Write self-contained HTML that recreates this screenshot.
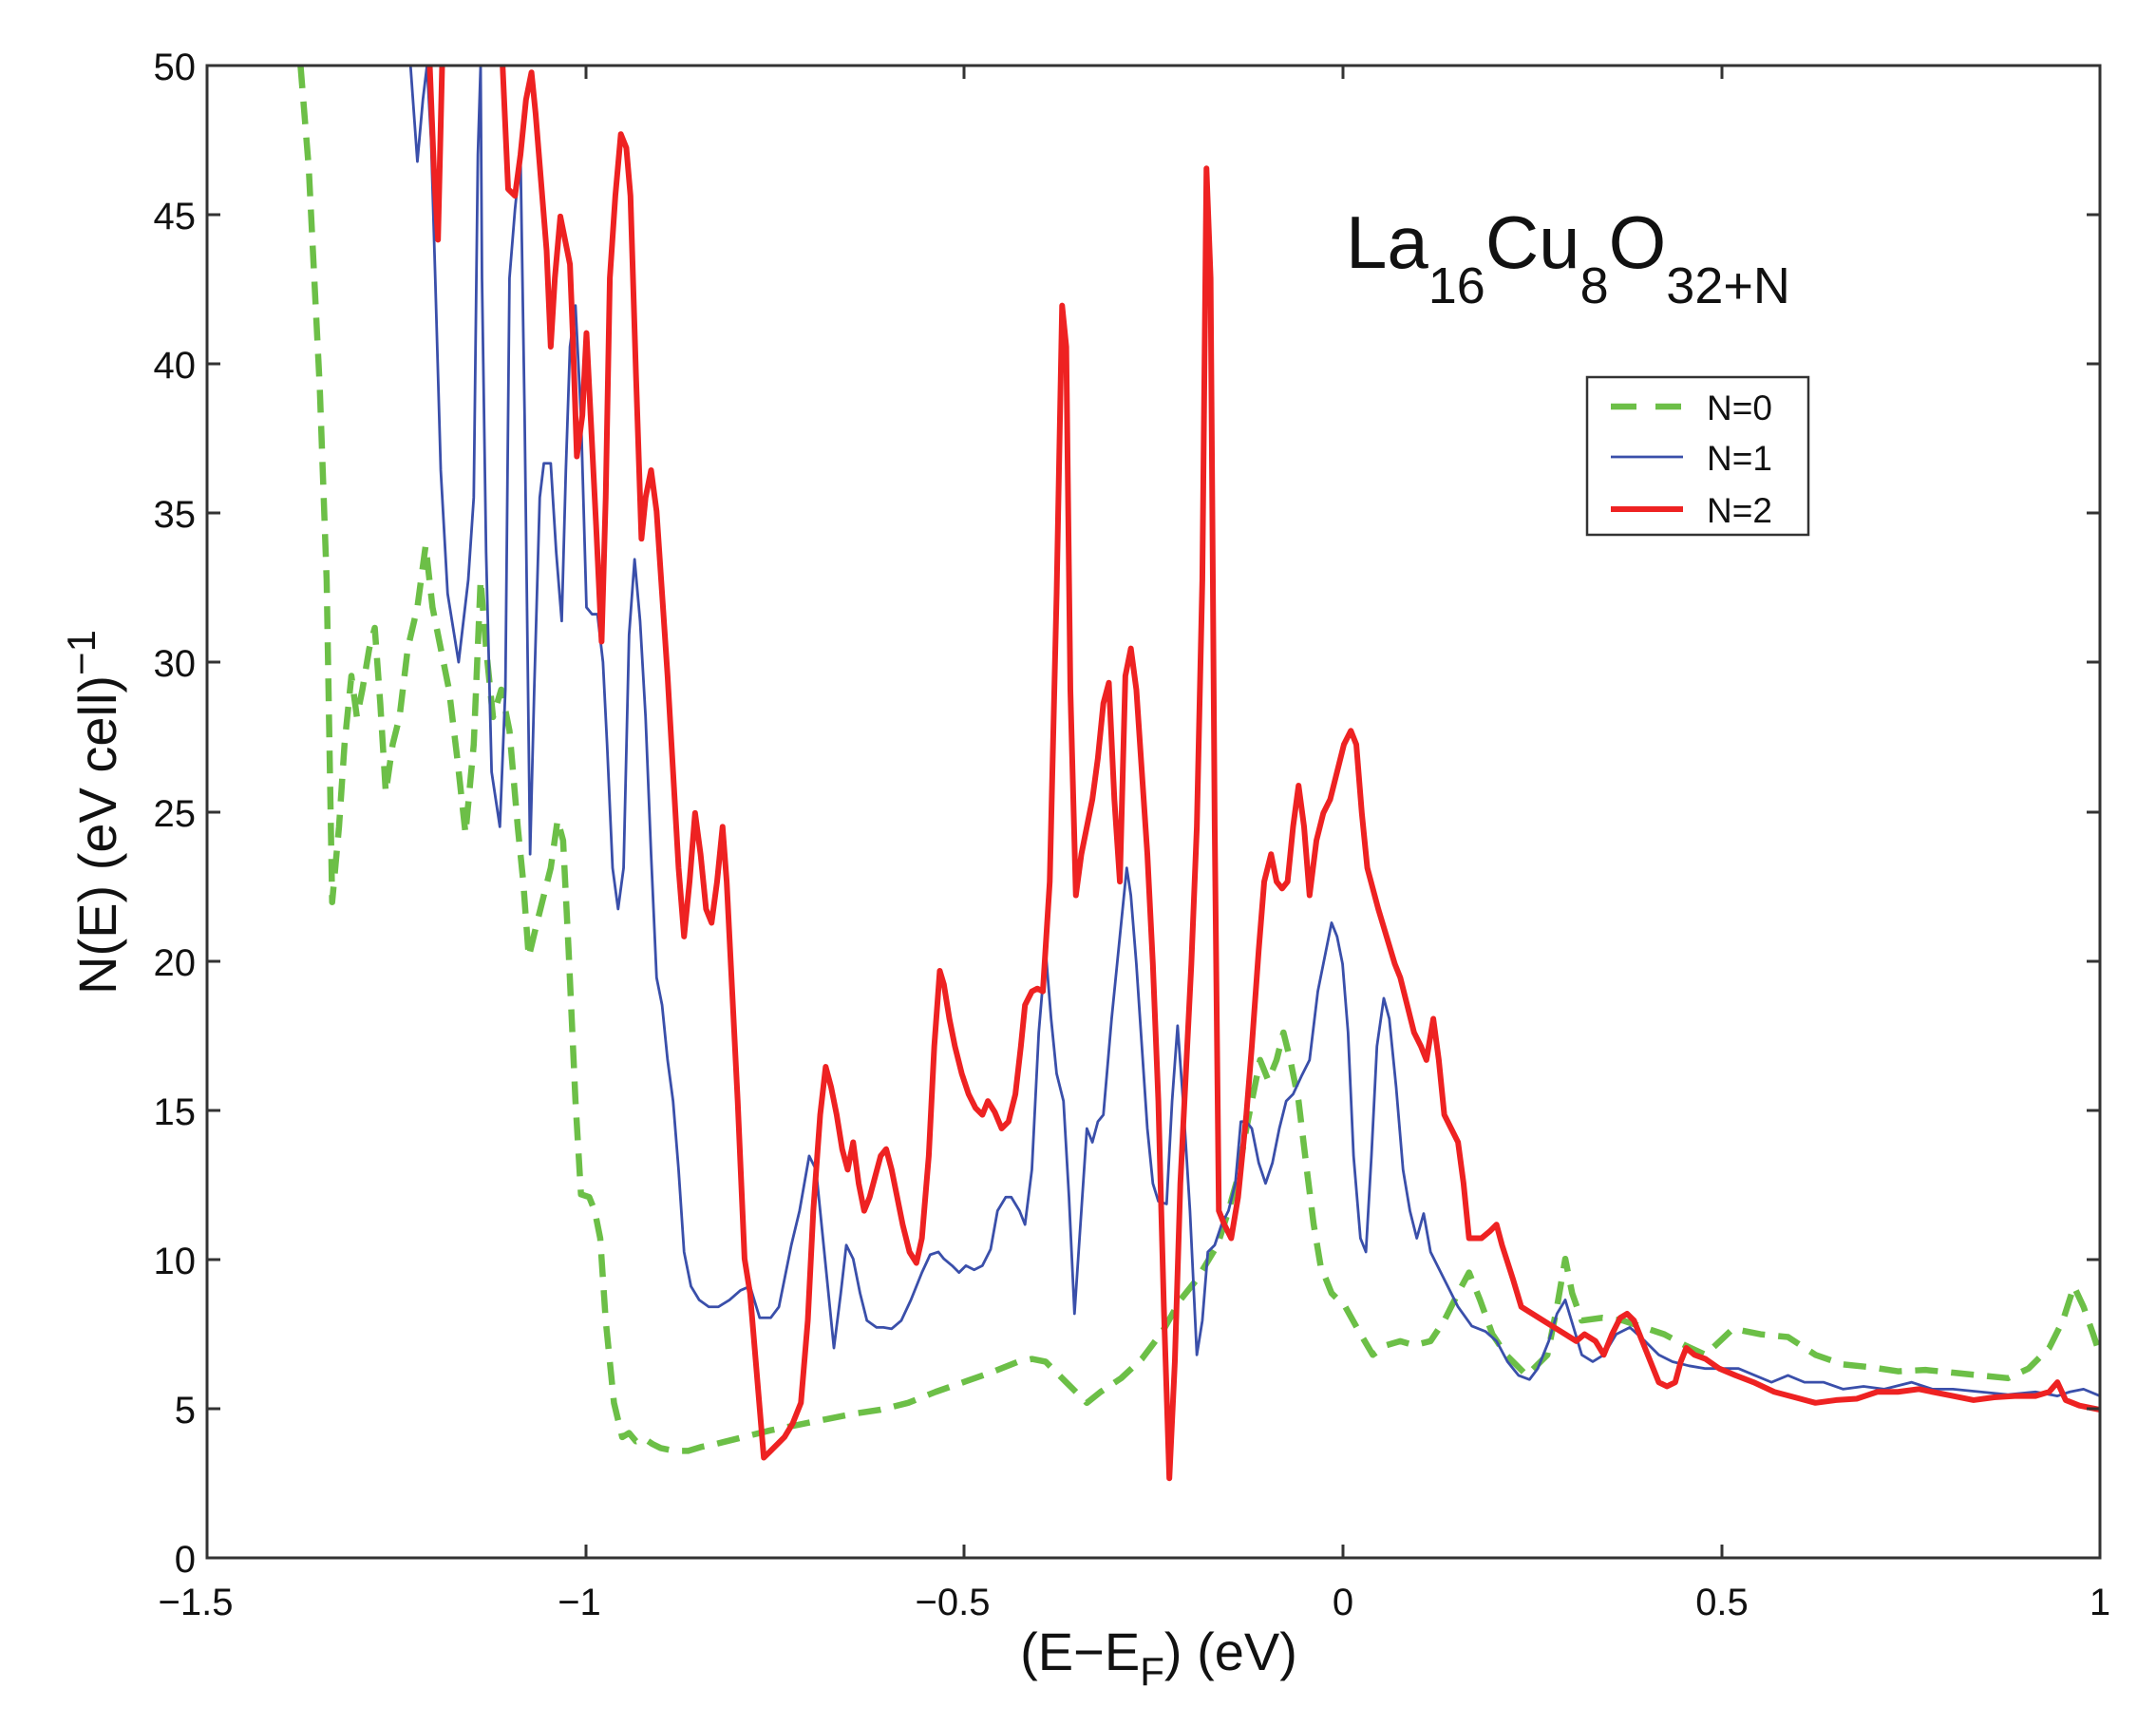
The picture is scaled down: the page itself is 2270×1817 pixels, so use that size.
<!DOCTYPE html>
<html><head><meta charset="utf-8"><style>
html,body{margin:0;padding:0;background:#fff;}
svg{display:block;font-family:"Liberation Sans",sans-serif;}
</style></head><body>
<svg width="2270" height="1817" viewBox="0 0 2270 1817" xmlns="http://www.w3.org/2000/svg">
<defs><clipPath id="c"><rect x="218" y="69" width="1993" height="1571"/></clipPath></defs>
<rect width="2270" height="1817" fill="#fff"/>
<g clip-path="url(#c)">
<g transform="translate(218,69) scale(1.4474,1.4439) translate(-150,-45)" fill="none" stroke-linejoin="round">
<polyline vector-effect="non-scaling-stroke" stroke="#6cbf47" stroke-width="6.5" stroke-dasharray="24,14" points="218,45 224,120 232,280 237,420 241,655 246,600 250,540 255,490 259,520 263,500 268,470 272,455 276,510 280,575 285,540 290,520 296,470 303,440 309,395 314,440 320,470 326,500 332,550 338,605 344,540 349,420 353,470 358,520 364,500 370,530 376,600 380,640 384,695 390,670 395,650 400,630 405,595 409,610 413,690 418,800 422,868 428,870 432,880 436,900 440,960 446,1020 452,1045 457,1042 462,1048 468,1046 474,1050 480,1053 490,1055 500,1055 510,1052 520,1050 540,1045 560,1040 580,1036 600,1032 620,1028 640,1025 660,1020 680,1012 700,1005 720,998 740,990 750,988 760,990 775,1005 790,1020 800,1012 815,1002 830,988 845,968 858,945 870,930 885,905 893,880 900,855 906,820 912,790 916,770 922,785 928,770 933,750 938,770 944,800 950,850 955,890 960,920 968,940 978,950 988,968 998,985 1008,978 1018,975 1028,978 1040,975 1050,960 1060,940 1068,925 1076,945 1085,970 1095,985 1110,1000 1125,985 1132,950 1138,915 1143,940 1150,960 1165,958 1180,960 1195,965 1210,970 1225,978 1240,985 1260,966 1280,970 1300,972 1320,985 1340,992 1360,994 1380,997 1400,996 1420,998 1440,1000 1460,1002 1475,995 1490,980 1500,960 1508,935 1515,950 1522,970 1527,985"/>
<polyline vector-effect="non-scaling-stroke" stroke="#3a4faa" stroke-width="2.8" points="298,45 303,115 307,70 310,45 313,100 316,200 320,340 325,430 333,480 340,420 344,360 347,110 349,45 350,200 353,400 357,560 363,600 367,500 370,200 374,150 378,110 381,300 385,620 388,500 392,360 395,335 400,335 404,400 408,450 411,340 414,250 418,220 422,300 426,440 430,445 434,445 438,480 441,540 445,630 449,660 453,630 457,460 461,405 465,450 469,520 473,620 477,710 481,730 485,770 489,800 493,850 497,910 502,935 508,945 515,950 522,950 530,945 538,938 545,935 552,958 560,958 566,950 570,930 575,905 581,880 588,840 593,850 598,900 603,950 606,980 611,940 615,905 620,915 625,940 630,960 637,965 642,965 648,966 655,960 662,945 670,925 676,912 682,910 686,915 692,920 697,925 702,920 708,923 714,920 720,908 725,880 731,870 735,870 741,880 745,890 750,850 755,750 760,690 764,740 768,780 773,800 777,870 781,955 786,880 790,820 794,830 798,815 802,810 808,740 814,680 819,630 822,650 826,700 830,760 834,820 838,860 842,873 848,875 852,800 856,745 860,800 865,880 870,985 874,960 878,910 883,905 888,890 893,880 898,860 902,815 906,815 910,820 915,845 920,860 925,845 930,820 935,800 940,795 946,782 952,770 958,720 964,690 968,670 972,680 976,700 980,750 984,840 989,900 993,910 997,840 1001,760 1006,725 1010,740 1015,790 1020,850 1025,880 1030,900 1035,882 1040,910 1050,930 1060,950 1070,964 1080,968 1088,975 1096,990 1104,1000 1112,1003 1118,995 1126,975 1132,955 1138,945 1144,965 1150,985 1158,990 1166,985 1175,970 1185,965 1196,975 1206,985 1216,990 1228,993 1240,995 1252,995 1264,995 1276,1000 1288,1005 1300,1000 1312,1005 1326,1005 1340,1010 1355,1008 1370,1010 1390,1005 1405,1010 1420,1010 1440,1012 1460,1014 1480,1012 1496,1015 1505,1012 1515,1010 1527,1015"/>
<polyline vector-effect="non-scaling-stroke" stroke="#ee2222" stroke-width="6" points="312,45 315,120 318,172 321,45"/>
<polyline vector-effect="non-scaling-stroke" stroke="#ee2222" stroke-width="6" points="365,45 369,135 374,140 378,110 382,70 386,50 389,80 393,130 397,180 400,250 403,200 407,155 411,175 414,190 416,240 419,330 423,300 426,240 429,300 433,380 437,465 440,360 443,200 447,140 451,95 455,105 458,140 462,270 466,390 469,360 473,340 477,370 481,430 485,490 489,560 493,630 497,680 501,640 505,590 509,620 513,660 517,670 521,640 525,600 528,640 532,720 536,800 541,915 545,940 550,1000 555,1060 560,1055 565,1050 570,1045 576,1035 582,1020 587,960 591,880 596,810 600,775 604,790 608,810 612,835 616,850 620,830 624,860 628,880 632,870 636,855 640,840 644,835 648,850 652,870 656,890 661,910 666,918 670,900 675,840 679,760 683,705 686,715 690,740 694,760 699,780 704,795 709,805 714,810 718,800 723,808 728,820 733,815 738,795 742,760 745,730 750,720 754,718 758,720 763,640 768,430 772,220 775,250 778,500 782,650 786,620 790,600 794,580 798,550 802,510 806,495 810,580 814,640 818,490 822,470 826,500 830,560 834,620 838,700 842,800 846,950 850,1075 854,990 858,860 862,780 866,700 870,600 874,420 877,120 880,200 883,600 886,880 890,890 895,900 900,870 906,810 910,760 915,690 919,640 924,620 928,640 932,645 936,640 940,600 944,570 948,600 952,650 957,610 962,590 967,580 972,560 977,540 982,530 986,540 990,590 994,630 998,645 1002,660 1008,680 1014,700 1018,710 1023,730 1028,750 1033,760 1037,770 1042,740 1046,770 1050,810 1055,820 1060,830 1064,860 1068,900 1072,900 1077,900 1083,895 1088,890 1092,905 1100,930 1106,950 1114,955 1122,960 1130,965 1138,970 1146,975 1152,970 1160,975 1166,985 1172,970 1178,958 1183,955 1188,960 1194,975 1200,990 1206,1005 1212,1008 1218,1005 1222,990 1226,980 1232,985 1240,988 1250,995 1262,1000 1275,1005 1290,1012 1305,1016 1320,1020 1335,1018 1350,1017 1365,1012 1380,1012 1395,1010 1405,1012 1420,1015 1435,1018 1450,1016 1465,1015 1480,1015 1490,1012 1496,1005 1502,1018 1512,1022 1527,1025"/>
</g>
</g>
<rect x="218" y="69" width="1993" height="1571" fill="none" stroke="#333" stroke-width="3"/>
<g stroke="#333" stroke-width="3">
<path d="M218,1640h14M2211,1640h-14M218,1483h14M2211,1483h-14M218,1326h14M2211,1326h-14M218,1169h14M2211,1169h-14M218,1012h14M2211,1012h-14M218,855h14M2211,855h-14M218,697h14M2211,697h-14M218,540h14M2211,540h-14M218,383h14M2211,383h-14M218,226h14M2211,226h-14M218,69h14M2211,69h-14"/>
<path d="M617,1640v-14M617,69v14M1015,1640v-14M1015,69v14M1414,1640v-14M1414,69v14M1813,1640v-14M1813,69v14"/>
</g>
<g font-size="40" fill="#111" text-anchor="end">
<text x="206" y="1655">0</text><text x="206" y="1498">5</text><text x="206" y="1341">10</text><text x="206" y="1184">15</text><text x="206" y="1027">20</text><text x="206" y="870">25</text><text x="206" y="712">30</text><text x="206" y="555">35</text><text x="206" y="398">40</text><text x="206" y="241">45</text><text x="206" y="84">50</text>
</g>
<g font-size="40" fill="#111" text-anchor="middle">
<text x="206" y="1700">−1.5</text><text x="610" y="1700">−1</text><text x="1003" y="1700">−0.5</text><text x="1414" y="1700">0</text><text x="1813" y="1700">0.5</text><text x="2211" y="1700">1</text>
</g>
<text x="1220" y="1758" font-size="56" fill="#111" text-anchor="middle">(E−E<tspan font-size="42" dy="16">F</tspan><tspan dy="-16">) (eV)</tspan></text>
<text transform="translate(122,855) rotate(-90)" font-size="56" fill="#111" text-anchor="middle">N(E) (eV cell)<tspan font-size="42" dy="-22">−1</tspan></text>
<text x="1417" y="282" font-size="78" fill="#111">La<tspan font-size="54" dy="37">16</tspan><tspan font-size="78" dy="-37">Cu</tspan><tspan font-size="54" dy="37">8</tspan><tspan font-size="78" dy="-37">O</tspan><tspan font-size="54" dy="37">32+N</tspan></text>
<rect x="1671" y="397" width="233" height="166" fill="#fff" stroke="#333" stroke-width="2.5"/>
<line x1="1696" y1="428" x2="1772" y2="428" stroke="#6cbf47" stroke-width="6.5" stroke-dasharray="27,20"/>
<line x1="1696" y1="481" x2="1772" y2="481" stroke="#3a4faa" stroke-width="2.8"/>
<line x1="1696" y1="536" x2="1772" y2="536" stroke="#ee2222" stroke-width="6"/>
<g font-size="37" fill="#111"><text x="1797" y="442">N=0</text><text x="1797" y="495">N=1</text><text x="1797" y="550">N=2</text></g>
</svg>
</body></html>
